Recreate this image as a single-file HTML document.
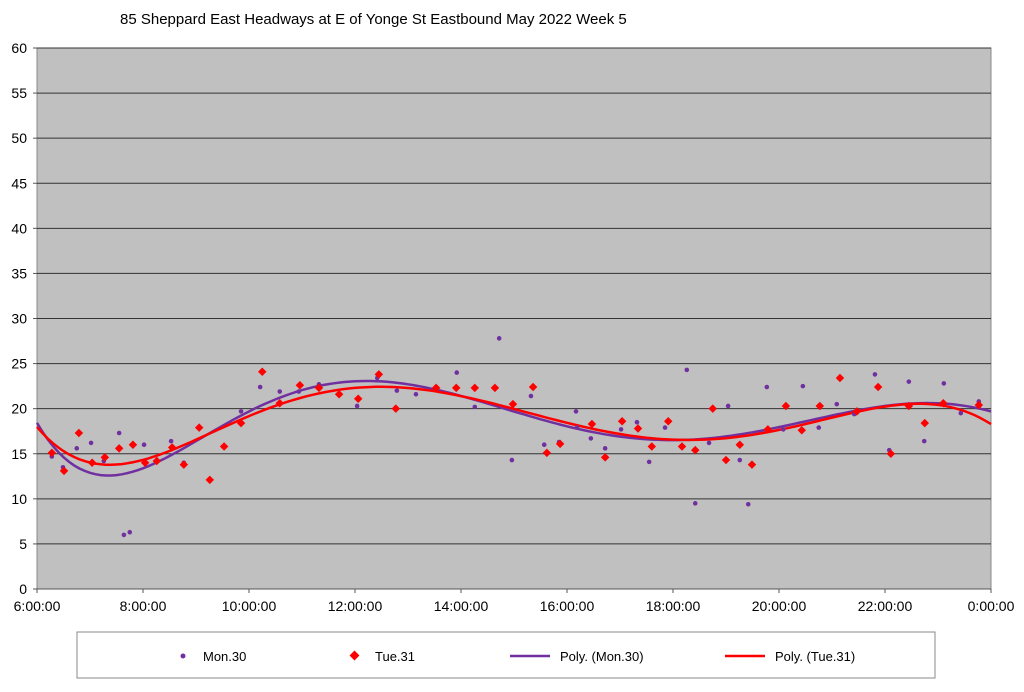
<!DOCTYPE html>
<html><head><meta charset="utf-8"><style>
body{margin:0;background:#fff;font-family:"Liberation Sans",sans-serif;}
svg text{font-family:"Liberation Sans",sans-serif;}
</style></head><body>
<svg id="chart" width="1024" height="687" xmlns="http://www.w3.org/2000/svg">
<text x="120" y="24" font-size="15" fill="#000">85 Sheppard East Headways at E of Yonge St Eastbound May 2022  Week 5</text>
<rect x="37" y="48" width="954" height="541" fill="#c0c0c0" stroke="#888" stroke-width="1"/>
<g id="grid"></g>
<g id="yaxis"></g>
<g id="xaxis"></g>
<g id="trends"></g>
<g id="points"></g>
<g>
<rect x="77" y="632" width="858" height="46" fill="#fff" stroke="#888"/>
<circle cx="183" cy="656" r="2.5" fill="#7030a0"/>
<text x="203" y="661" font-size="13">Mon.30</text>
<rect x="351" y="652" width="7" height="7" fill="#ff0000" transform="rotate(45 354.5 655.5)"/>
<text x="375" y="661" font-size="13">Tue.31</text>
<line x1="510" y1="656" x2="550" y2="656" stroke="#7030a0" stroke-width="2.5"/>
<text x="560" y="661" font-size="13">Poly. (Mon.30)</text>
<line x1="725" y1="656" x2="765" y2="656" stroke="#ff0000" stroke-width="2.5"/>
<text x="775" y="661" font-size="13">Poly. (Tue.31)</text>
</g>
</svg>
<script>
const yTicks=[0,5,10,15,20,25,30,35,40,45,50,55,60];
const xTickHours=[6,8,10,12,14,16,18,20,22,24];
const xTickLabels=["6:00:00","8:00:00","10:00:00","12:00:00","14:00:00","16:00:00","18:00:00","20:00:00","22:00:00","0:00:00"];
const monHours=[6.28,6.49,6.75,7.02,7.26,7.55,7.64,7.75,8.02,8.53,8.77,9.06,9.85,9.85,10.21,10.58,10.58,10.94,11.32,12.04,12.42,12.79,13.15,13.53,13.92,14.26,14.72,14.96,15.32,15.57,15.85,16.17,16.19,16.45,16.72,17.02,17.32,17.55,17.85,18.26,18.42,18.68,19.04,19.26,19.42,19.77,20.08,20.45,20.75,21.09,21.42,21.81,22.08,22.45,22.74,23.11,23.43,23.77];
const monValues=[14.7,13.5,15.6,16.2,14.2,17.3,6.0,6.3,16.0,16.4,14.0,17.9,19.7,18.4,22.4,21.9,20.6,21.9,22.7,20.3,23.4,22.0,21.6,22.2,24.0,20.2,27.8,14.3,21.4,16.0,16.3,19.7,17.9,16.7,15.6,17.7,18.5,14.1,17.9,24.3,9.5,16.2,20.3,14.3,9.4,22.4,17.7,22.5,17.9,20.5,19.4,23.8,15.4,23.0,16.4,22.8,19.5,20.8];
const tueHours=[6.28,6.51,6.79,7.04,7.28,7.55,7.81,8.04,8.26,8.55,8.77,9.06,9.26,9.53,9.85,10.25,10.58,10.96,11.32,11.70,12.06,12.45,12.77,13.53,13.91,14.26,14.64,14.98,15.36,15.62,15.87,16.47,16.72,17.04,17.34,17.60,17.91,18.17,18.42,18.75,19.0,19.26,19.49,19.79,20.13,20.43,20.77,21.15,21.47,21.87,22.11,22.45,22.75,23.10,23.77];
const tueValues=[15.1,13.1,17.3,14.0,14.6,15.6,16.0,14.0,14.2,15.7,13.8,17.9,12.1,15.8,18.4,24.1,20.6,22.6,22.3,21.6,21.1,23.8,20.0,22.3,22.3,22.3,22.3,20.5,22.4,15.1,16.1,18.3,14.6,18.6,17.8,15.8,18.6,15.8,15.4,20.0,14.3,16.0,13.8,17.7,20.3,17.6,20.3,23.4,19.7,22.4,15.0,20.3,18.4,20.6,20.4];
const NS="http://www.w3.org/2000/svg";
const X0=37,X1=991,Y0=589,Y1=48;
function xs(h){return X0+(h-6)/18*(X1-X0);}
function ys(v){return Y0-v/60*(Y0-Y1);}
function mk(t,a,p){const e=document.createElementNS(NS,t);for(const k in a)e.setAttribute(k,a[k]);p.appendChild(e);return e;}
const grid=document.getElementById('grid'),ya=document.getElementById('yaxis'),xa=document.getElementById('xaxis');
yTicks.forEach(v=>{
 if(v>0){const l=mk('line',{x1:X0,x2:X1,y1:ys(v),y2:ys(v),stroke:'#333','stroke-width':1},grid);
 
 }
 const t=mk('text',{x:27,y:ys(v)+5,'font-size':14,'text-anchor':'end'},ya);t.textContent=v;
 
 
 mk('line',{x1:X0-4,x2:X0,y1:ys(v),y2:ys(v),stroke:'#555'},ya);
});
mk('line',{x1:X0,x2:X1,y1:Y0,y2:Y0,stroke:'#555'},xa);
xTickHours.forEach((h,i)=>{
 mk('line',{x1:xs(h),x2:xs(h),y1:Y0,y2:Y0+4,stroke:'#555'},xa);
 const t=mk('text',{x:xs(h),y:611,'font-size':14,'text-anchor':'middle'},xa);t.textContent=xTickLabels[i];
 
 
});
function polyfit(xv,yv,deg){
 const n=deg+1,A=[];for(let i=0;i<n;i++){A.push(new Array(n+1).fill(0));}
 xv.forEach((x0,k)=>{const x=(x0-15)/9;const p=[];for(let i=0;i<2*n;i++)p.push(Math.pow(x,i));
  for(let i=0;i<n;i++){for(let j=0;j<n;j++)A[i][j]+=p[i+j];A[i][n]+=p[i]*yv[k];}});
 for(let i=0;i<n;i++){let m=i;for(let r=i+1;r<n;r++)if(Math.abs(A[r][i])>Math.abs(A[m][i]))m=r;[A[i],A[m]]=[A[m],A[i]];
  for(let r=0;r<n;r++){if(r===i)continue;const f=A[r][i]/A[i][i];for(let c=i;c<=n;c++)A[r][c]-=f*A[i][c];}}
 const c=A.map((row,i)=>row[n]/row[i]);
 return h=>{const x=(h-15)/9;let s=0;for(let i=n-1;i>=0;i--)s=s*x+c[i];return s;};
}
const tr=document.getElementById('trends');
[[monHours,monValues,'#7030a0','trend-mon'],[tueHours,tueValues,'#ff0000','trend-tue']].forEach(([hx,vy,col,nm])=>{
 const f=polyfit(hx,vy,6);let d='';
 for(let h=6;h<=24.001;h+=0.1){d+=(d?'L':'M')+xs(h).toFixed(1)+','+ys(f(h)).toFixed(1);}
 const p=mk('path',{d:d,fill:'none',stroke:col,'stroke-width':2.5},tr);
 
 
});
const pts=document.getElementById('points');
monHours.forEach((h,i)=>{const c=mk('circle',{cx:xs(h),cy:ys(monValues[i]),r:2.3,fill:'#7030a0'},pts);
 
 });
tueHours.forEach((h,i)=>{const x=xs(h),y=ys(tueValues[i]);
 const r=mk('rect',{x:x-3,y:y-3,width:6,height:6,fill:'#ff0000',transform:`rotate(45 ${x} ${y})`},pts);
 
 });
</script>
</body></html>
